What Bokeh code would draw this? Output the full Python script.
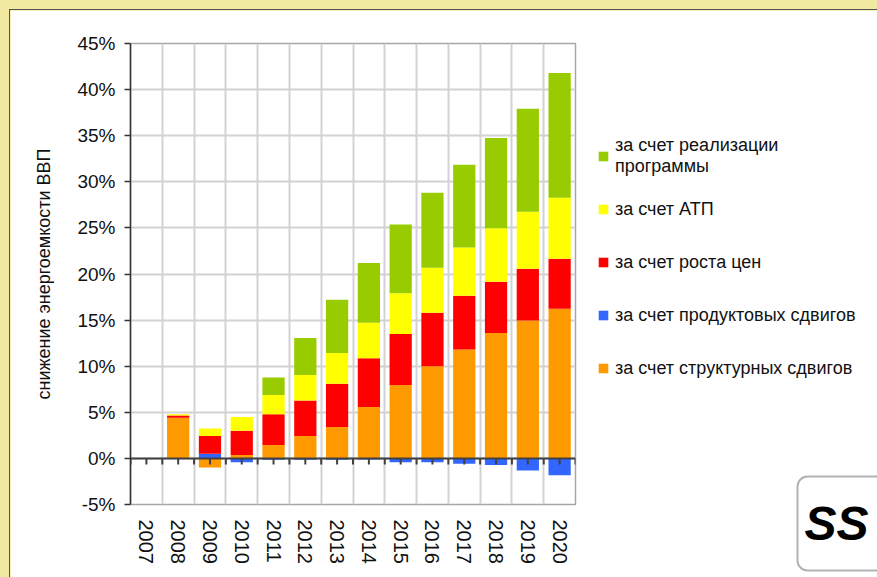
import numpy as np
from bokeh.plotting import figure
from bokeh.models import (FixedTicker, PrintfTickFormatter, Legend, LegendItem,
                          Span, Range1d, Label, BoxAnnotation)
from bokeh.embed import file_html
from bokeh.resources import INLINE

# ---------------- data (percent) ----------------
years = ["2007", "2008", "2009", "2010", "2011", "2012", "2013",
         "2014", "2015", "2016", "2017", "2018", "2019", "2020"]
structural = [0.0, 4.40, -1.00, 0.36, 1.45, 2.42, 3.40, 5.57, 7.95, 10.00, 11.82, 13.60, 14.97, 16.24]
product    = [0.0, 0.00, 0.50, -0.43, -0.15, -0.15, -0.15, -0.12, -0.43, -0.43, -0.58, -0.72, -1.30, -1.84]
price      = [0.0, 0.26, 1.92, 2.64, 3.35, 3.87, 4.70, 5.28, 5.53, 5.80, 5.83, 5.56, 5.60, 5.42]
atp        = [0.0, 0.14, 0.83, 1.48, 2.07, 2.75, 3.32, 3.87, 4.42, 4.88, 5.23, 5.79, 6.18, 6.62]
program    = [0.0, 0.00, 0.00, 0.00, 1.91, 4.01, 5.78, 6.48, 7.48, 8.12, 8.97, 9.79, 11.18, 13.51]

names = ["за счет структурных сдвигов", "за счет продуктовых сдвигов",
         "за счет роста цен", "за счет АТП", "за счет реализации\nпрограммы"]
colors = ["#ff9900", "#3366ff", "#ff0000", "#ffff00", "#99cc00"]
y_ticks = [-5, 0, 5, 10, 15, 20, 25, 30, 35, 40, 45]

FONT = "Liberation Sans"

n = len(years)
x = np.arange(n)

p = figure(frame_width=445, frame_height=461,
           min_border_left=120, min_border_right=291,
           min_border_top=33, min_border_bottom=82,
           x_range=Range1d(-0.5, n - 0.5), y_range=Range1d(-5, 45),
           output_backend="svg", toolbar_location=None,
           background_fill_color="white", border_fill_color="white",
           styles={"outline": "1px solid #555555"})

p.outline_line_color = "#a6a6a6"
p.outline_line_width = 1.5

# grid
p.ygrid.ticker = FixedTicker(ticks=y_ticks)
p.xgrid.ticker = FixedTicker(ticks=list(np.arange(n + 1) - 0.5))
p.grid.grid_line_color = "#d2d2d2"
p.grid.grid_line_width = 2

# stacked bars (Excel-style positive / negative stacking)
pos = np.zeros(n)
neg = np.zeros(n)
rends = []
for vals, color in zip([structural, product, price, atp, program], colors):
    v = np.array(vals, dtype=float)
    bottom = np.where(v >= 0, pos, neg)
    top = bottom + v
    pos = np.where(v >= 0, top, pos)
    neg = np.where(v < 0, top, neg)
    r = p.vbar(x=x, bottom=bottom, top=top, width=0.7,
               fill_color=color, line_color=None)
    rends.append(r)

# zero line with small tick marks (category boundaries and centres)
p.add_layout(Span(location=0, dimension="width", line_color="#404040", line_width=2))
tick_x = np.concatenate([np.arange(n + 1) - 0.5, x])
p.segment(x0=tick_x, x1=tick_x, y0=0, y1=-0.65, line_color="#404040", line_width=2)

# y axis
yax = p.yaxis[0]
yax.ticker = FixedTicker(ticks=y_ticks)
yax.formatter = PrintfTickFormatter(format="%d%%")
yax.axis_line_color = "#333333"
yax.axis_line_width = 1.5
yax.major_tick_line_color = "#333333"
yax.major_tick_line_width = 1.5
yax.major_tick_out = 6
yax.major_tick_in = 0
yax.minor_tick_line_color = None
yax.major_label_text_font = FONT
yax.major_label_text_font_size = "19px"
yax.major_label_text_color = "#111111"
yax.major_label_standoff = 9
yax.axis_label = "снижение энергоемкости ВВП"
yax.axis_label_text_font = FONT
yax.axis_label_text_font_size = "18px"
yax.axis_label_text_font_style = "normal"
yax.axis_label_text_color = "#111111"
yax.axis_label_standoff = 20

# bottom axis with year labels
xax = p.xaxis[0]
xax.ticker = FixedTicker(ticks=list(x))
xax.major_label_overrides = {int(i): y for i, y in zip(x, years)}
xax.major_label_orientation = "vertical"
xax.major_label_text_font = FONT
xax.major_label_text_font_size = "20px"
xax.major_label_text_color = "#111111"
xax.major_label_standoff = 9
xax.axis_line_color = None
xax.major_tick_line_color = None
xax.minor_tick_line_color = None

# legend (right side)
legend = Legend(items=[LegendItem(label=names[i], renderers=[rends[i]]) for i in [4, 3, 2, 1, 0]],
                location=(22, 114), spacing=9,
                label_text_font=FONT, label_text_font_size="18px",
                label_text_color="#111111", glyph_width=12, glyph_height=12,
                label_standoff=6, label_height=44, padding=0, margin=0,
                border_line_color=None, background_fill_alpha=0)
p.add_layout(legend, "right")

# logo (decoration in the bottom-right corner)
logo = figure(width=87, height=130, min_border=0, x_range=Range1d(0, 1), y_range=Range1d(0, 1),
              output_backend="svg", toolbar_location=None,
              background_fill_color="white", border_fill_color="white",
              styles={"position": "absolute", "left": "790px", "top": "447px"})
logo.axis.visible = False
logo.grid.visible = False
logo.outline_line_color = None
logo.add_layout(BoxAnnotation(left=7, right=120, bottom=7, top=101,
                              left_units="screen", right_units="screen",
                              bottom_units="screen", top_units="screen",
                              fill_alpha=0, line_color="black", line_width=2,
                              border_radius=10))
logo.add_layout(Label(x=46, y=54, x_units="screen", y_units="screen", text="SS",
                      text_font=FONT, text_font_size="48px", text_font_style="bold italic",
                      text_color="black", text_align="center", text_baseline="middle"))

html = file_html([p, logo], INLINE)
css = ("<style>html, body {background-color: #f1e9a2 !important; overflow: hidden;} "
       "body {padding: 10px 0 0 10px !important; box-sizing: border-box;}</style>")
html = html.replace("</head>", css + "</head>", 1)
open("out.html", "w").write(html)
